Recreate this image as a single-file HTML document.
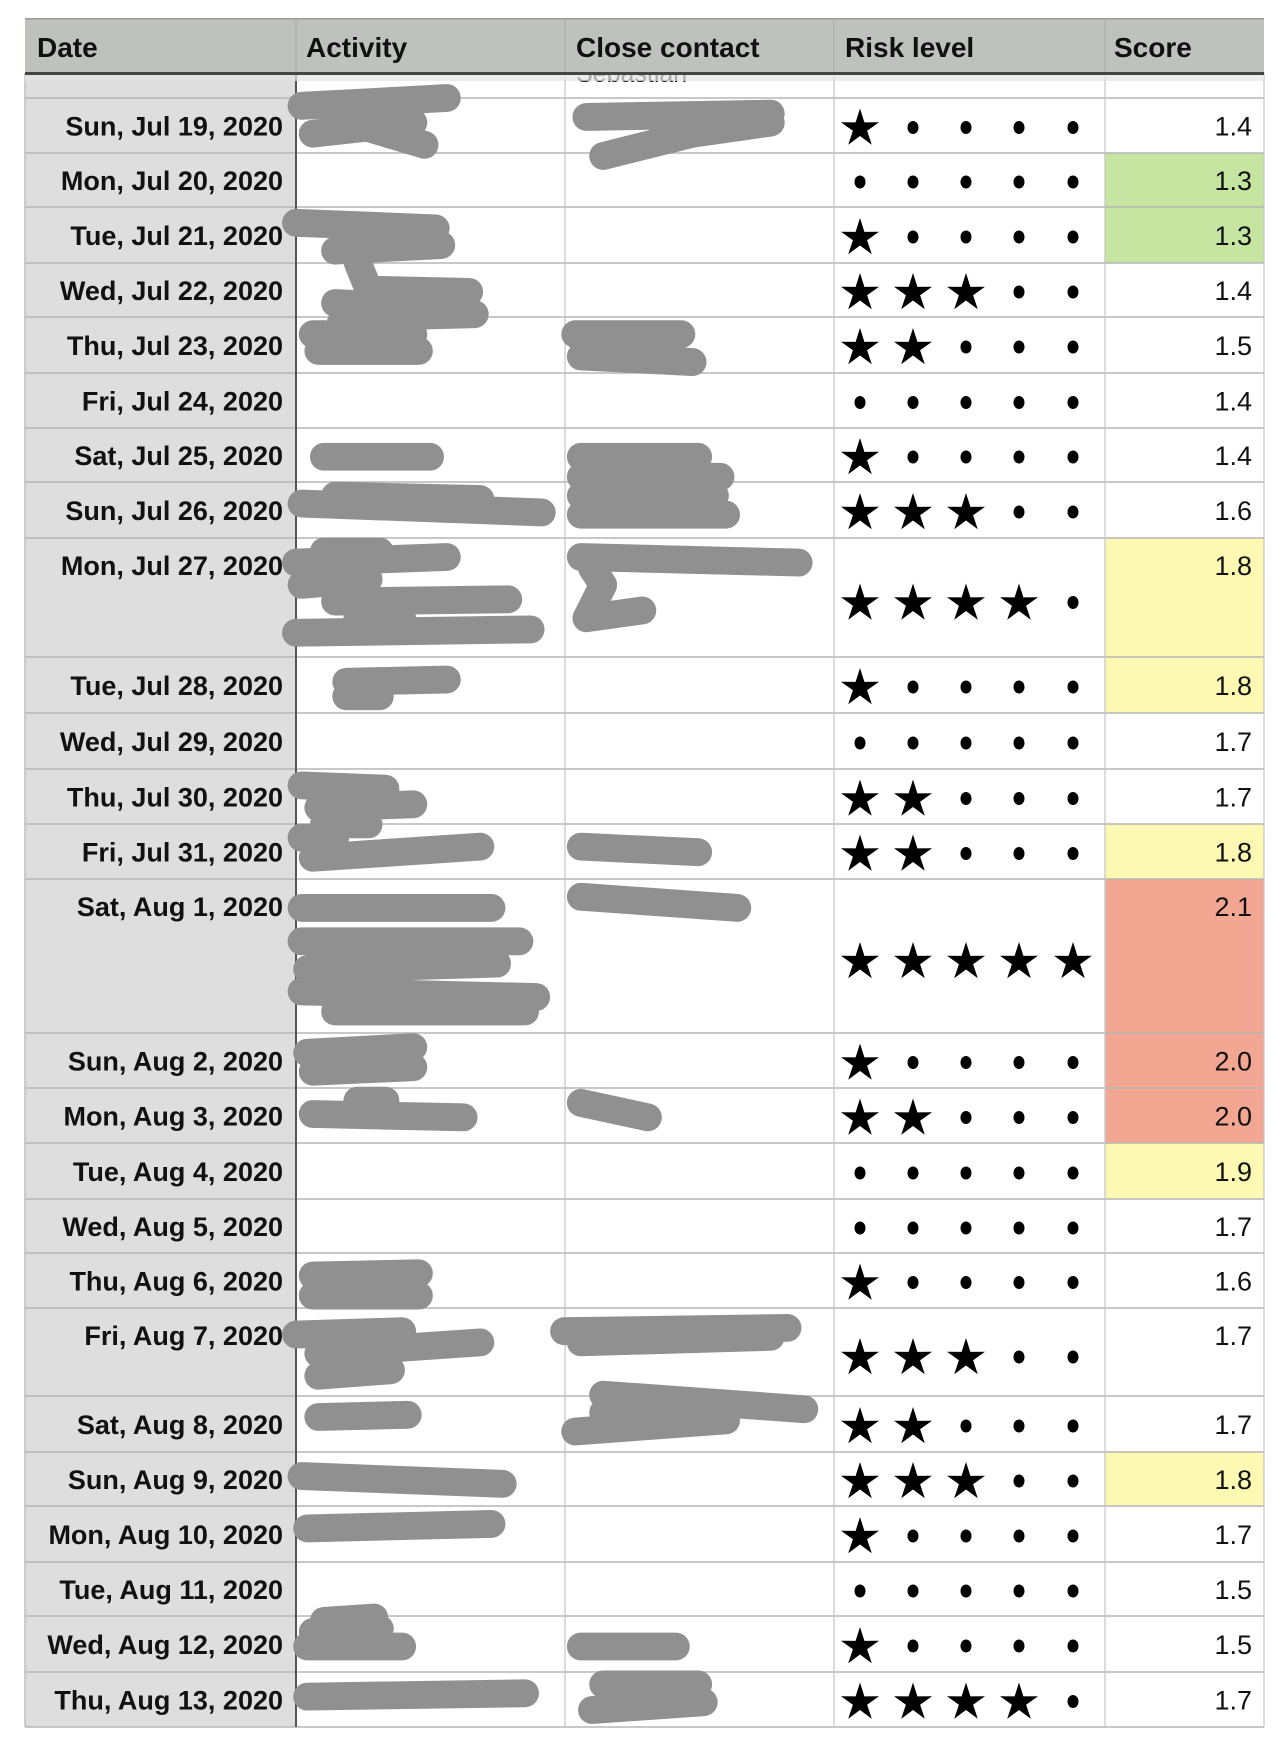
<!DOCTYPE html>
<html><head><meta charset="utf-8">
<style>
html,body{margin:0;padding:0;background:#fff;}
body{width:1280px;height:1748px;position:relative;overflow:hidden;font-family:"Liberation Sans",Arial,sans-serif;}
svg{position:absolute;left:0;top:0;}
</style></head>
<body>
<svg id="sheet" width="1280" height="1748" viewBox="0 0 1280 1748"></svg>
<script>
const dates=["Sun, Jul 19, 2020","Mon, Jul 20, 2020","Tue, Jul 21, 2020","Wed, Jul 22, 2020","Thu, Jul 23, 2020","Fri, Jul 24, 2020","Sat, Jul 25, 2020","Sun, Jul 26, 2020","Mon, Jul 27, 2020","Tue, Jul 28, 2020","Wed, Jul 29, 2020","Thu, Jul 30, 2020","Fri, Jul 31, 2020","Sat, Aug 1, 2020","Sun, Aug 2, 2020","Mon, Aug 3, 2020","Tue, Aug 4, 2020","Wed, Aug 5, 2020","Thu, Aug 6, 2020","Fri, Aug 7, 2020","Sat, Aug 8, 2020","Sun, Aug 9, 2020","Mon, Aug 10, 2020","Tue, Aug 11, 2020","Wed, Aug 12, 2020","Thu, Aug 13, 2020"];
const stars=[1,0,1,3,2,0,1,3,4,1,0,2,2,5,1,2,0,0,1,3,2,3,1,0,1,4];
const scores=[1.4,1.3,1.3,1.4,1.5,1.4,1.4,1.6,1.8,1.8,1.7,1.7,1.8,2.1,2.0,2.0,1.9,1.7,1.6,1.7,1.7,1.8,1.7,1.5,1.5,1.7];
const rowLines=[98,153,207,263,317,373,428,482,538,657,713,769,824,879,1033,1088,1143,1199,1253,1308,1396,1452,1506,1562,1616,1672,1727];

const NS="http://www.w3.org/2000/svg";
const svg=document.getElementById('sheet');
function mk(tag,attrs,parent){const e=document.createElementNS(NS,tag);for(const k in attrs)e.setAttribute(k,attrs[k]);(parent||svg).appendChild(e);return e;}
const X0=25,C1=296,C2=565,C3=834,C4=1105,X1=1264;
const starX=[860,913,966,1019,1073];
const colorCells={1:"#c5e5a0",2:"#c5e5a0",8:"#fdf9b2",9:"#fdf9b2",13:"#f3a692",14:"#f3a692",15:"#f3a692",16:"#fdf9b2",21:"#fdf9b2"};
function scoreColor(s){if(s<=1.3)return"#c5e5a0";if(s>=2.0)return"#f3a692";if(s>=1.8)return"#fdf9b2";return"#ffffff";}

let r=mk('rect',{x:X0,y:73,width:C1-X0,height:1727-73,fill:"#dedede"});

let t=mk('text',{x:576,y:82,'font-size':25,fill:"#222"});t.textContent="Sebastian";


for(let i=0;i<dates.length;i++){
  const top=rowLines[i],bot=rowLines[i+1],h=bot-top,tall=h>60;
  const g=mk('g',{});
  
  
  const bg=mk('rect',{x:C4,y:top,width:X1-C4,height:h,fill:scoreColor(scores[i])},g);
  
  
  const ty=tall?top+37:top+(h/2)+10;
  const dt=mk('text',{x:283,y:ty,'text-anchor':'end','font-size':27,'font-weight':'bold',fill:"#111",textLength:0},g);
  dt.removeAttribute('textLength');
  dt.textContent=dates[i];
  
  
  const sc=mk('text',{x:1252,y:ty,'text-anchor':'end','font-size':27,fill:"#111"},g);
  sc.textContent=scores[i].toFixed(1);
  
  
  const cy=top+h/2+(tall?4:1);
  for(let k=0;k<5;k++){
    if(k<stars[i]){
      const R=20,rr=7.5,pts=[];
      for(let p=0;p<10;p++){const a=-Math.PI/2+p*Math.PI/5;const rad=p%2?rr:R;pts.push((starX[k]+rad*Math.cos(a)).toFixed(1)+","+(cy+2+rad*Math.sin(a)).toFixed(1));}
      const s=mk('polygon',{points:pts.join(" "),fill:"#000"},g);
      
      
    }else{
      const d=mk('ellipse',{cx:starX[k],cy:cy+1,rx:5.5,ry:6.5,fill:"#000"},g);
      
      
    }
  }
}
rowLines.forEach(y=>{mk('line',{x1:X0,x2:X1,y1:y,y2:y,stroke:"#b5b5b5",'stroke-width':1.5});});
[C2,C3,C4,X1].forEach(x=>{mk('line',{x1:x,x2:x,y1:73,y2:1727,stroke:"#c4c4c4",'stroke-width':1.2});});
mk('line',{x1:X0,x2:X0,y1:73,y2:1727,stroke:"#b5b5b5",'stroke-width':1.2});
mk('line',{x1:C1,x2:C1,y1:73,y2:1727,stroke:"#555",'stroke-width':2});

const blobs=[
"M270,95 L400,88 M300,100 L330,115 L380,130 M280,120 L370,110",
"M525,105 L690,102 M540,140 L620,120 L690,110",
"M265,200 L390,205 M300,225 L395,220",
"M320,235 L330,260 L420,262 M310,285 L425,282 M300,272 L360,275",
"M280,300 L370,300 M285,315 L375,315 M305,290 L360,290",
"M515,300 L610,300 M520,320 L620,325",
"M290,410 L385,410",
"M520,410 L625,410 M520,428 L645,428",
"M270,452 L485,460 M300,445 L430,448",
"M520,445 L640,445 M520,462 L650,462",
"M265,505 L400,500 M290,495 L340,495 M270,525 L330,520 M300,540 L455,538 M265,568 L475,565 M320,555 L360,555",
"M520,500 L715,505 M530,510 L540,525 L525,555 L575,548",
"M310,612 L400,610 M310,625 L340,625",
"M270,705 L345,708 M285,725 L370,722 M290,740 L330,740",
"M270,752 L300,752 M280,770 L430,760 M520,760 L625,765",
"M270,815 L440,815 M270,845 L465,845 M275,870 L445,865 M270,890 L480,895 M300,908 L470,908",
"M520,805 L660,815",
"M275,945 L370,940 M280,962 L370,958",
"M280,1000 L415,1003 M320,988 L345,988",
"M520,990 L580,1003",
"M280,1145 L375,1143 M280,1163 L375,1163",
"M265,1198 L360,1195 M285,1215 L430,1205 M285,1235 L350,1230",
"M505,1195 L705,1192 M520,1205 L690,1200",
"M285,1272 L365,1270",
"M540,1252 L720,1265 M515,1285 L650,1275 M540,1268 L650,1268",
"M270,1325 L450,1332",
"M275,1372 L440,1368",
"M280,1465 L340,1462 M275,1478 L360,1478 M290,1455 L335,1452",
"M520,1478 L605,1478",
"M275,1523 L470,1520",
"M540,1512 L625,1512 M530,1535 L630,1528"];
const bgG=mk('g',{transform:"scale(1.117,1.114)",fill:"none",stroke:"#909090",'stroke-width':25,'stroke-linecap':'round','stroke-linejoin':'round'});
blobs.forEach(d=>{const p=mk('path',{d:d},bgG);});

const hdr=mk('g',{});


mk('rect',{x:X0,y:73,width:X1-X0,height:8,fill:"#e4e4e4",opacity:0.7},hdr);
mk('rect',{x:X0,y:19,width:X1-X0,height:55,fill:"#bfc1bf"},hdr);
mk('rect',{x:X0,y:18,width:X1-X0,height:1.5,fill:"#9a9a9a"},hdr);
[C1,C2,C3,C4].forEach(x=>mk('line',{x1:x,x2:x,y1:19,y2:73,stroke:"#a8a8a8",'stroke-width':1},hdr));
mk('rect',{x:X0,y:72,width:X1-X0,height:3,fill:"#444"},hdr);
[["Date",37],["Activity",306],["Close contact",576],["Risk level",845],["Score",1114]].forEach(([s,x])=>{
  const h=mk('text',{x:x,y:57,'font-size':28,'font-weight':'bold',fill:"#111"},hdr);
  h.textContent=s;
  
  
});
</script>
</body></html>
